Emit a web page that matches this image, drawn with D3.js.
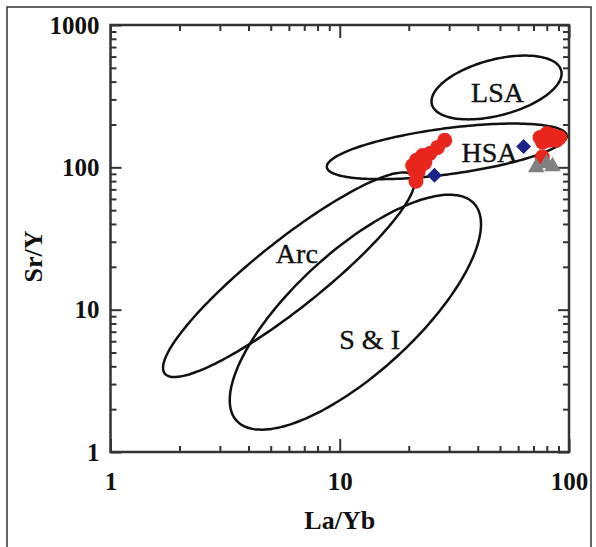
<!DOCTYPE html>
<html>
<head>
<meta charset="utf-8">
<script src="https://cdn.jsdelivr.net/npm/d3@7"></script>
<style>
  body { margin: 0; background: #fff; }
  svg { display: block; }
  text { font-family: 'Liberation Serif', 'Times New Roman', serif; }
</style>
</head>
<body>
<div id="chart"></div>
<script>
// tick values
const xMajor = [1, 10, 100]
const xMinor = [2, 3, 4, 5, 6, 7, 8, 9, 20, 30, 40, 50, 60, 70, 80, 90]
const yMajor = [1, 10, 100, 1000]
const yMinor = [2, 3, 4, 5, 6, 7, 8, 9, 20, 30, 40, 50, 60, 70, 80, 90, 200, 300, 400, 500, 600, 700, 800, 900]

// discrimination fields: centre (La/Yb, Sr/Y) and two conjugate half-axes in log10 units
const fieldNames = ['LSA', 'HSA', 'Arc', 'S & I']
const fieldCentres = [[48.3, 364], [29.3, 129.5], [6.0, 17.6], [11.7, 9.6]]
const fieldU = [[0.282, 0.119], [0.523, 0.112], [0.549, 0.654], [0.548, 0.618]]
const fieldV = [[0.031, -0.190], [0.0133, -0.160], [0, 0.298], [0, 0.547]]
const labelPos = [[48.8, 336], [45, 127], [6.5, 24.9], [13.5, 6.2]]

// samples
const redLaYb = [28.7, 26.7, 24.7, 23.0, 21.6, 20.8, 21.2, 21.9, 22.3, 23.5, 21.5,
  74.8, 80.2, 84.8, 90.9, 76.7, 82.2, 88.2, 76.5]
const redSrY = [155, 138, 125, 121, 112, 103, 95, 92, 100, 108, 80,
  162, 173, 168, 162, 150, 155, 155, 118]
const blueLaYb = [25.9, 63.4]
const blueSrY = [88, 140]
const grayLaYb = [72, 79.8, 84.7]
const graySrY = [100, 106.7, 101.6]

const width = 596, height = 547
const svg = d3.select('#chart').append('svg')
  .attr('width', width)
  .attr('height', height)

// outer border of the figure
svg.append('rect')
  .attr('x', 7).attr('y', 7)
  .attr('width', 584).attr('height', 560)
  .attr('fill', 'none')
  .attr('stroke', '#333')
  .attr('stroke-width', 1.5)

const x = d3.scaleLog().domain([1, 100]).range([110.5, 569])
const y = d3.scaleLog().domain([1, 1000]).range([452, 25])

function styleAxis (g) {
  g.select('.domain').remove()
  g.selectAll('.tick line').attr('stroke', '#333').attr('stroke-width', 2)
  g.selectAll('.tick text')
    .attr('fill', '#111')
    .style('font-size', '25px')
    .style('font-weight', 'bold')
}

const fmt = d3.format('d')

// bottom
svg.append('g')
  .attr('transform', `translate(0,${y(1)})`)
  .call(d3.axisBottom(x).tickValues(xMajor).tickSize(-13).tickPadding(20).tickFormat(fmt))
  .call(styleAxis)
svg.append('g')
  .attr('transform', `translate(0,${y(1)})`)
  .call(d3.axisBottom(x).tickValues(xMinor).tickSize(-6).tickFormat(''))
  .call(styleAxis)
// top
svg.append('g')
  .attr('transform', `translate(0,${y(1000)})`)
  .call(d3.axisTop(x).tickValues(xMajor).tickSize(-13).tickFormat(''))
  .call(styleAxis)
svg.append('g')
  .attr('transform', `translate(0,${y(1000)})`)
  .call(d3.axisTop(x).tickValues(xMinor).tickSize(-6).tickFormat(''))
  .call(styleAxis)
// left
svg.append('g')
  .attr('transform', `translate(${x(1)},0)`)
  .call(d3.axisLeft(y).tickValues(yMajor).tickSize(-11).tickPadding(11).tickFormat(fmt))
  .call(styleAxis)
svg.append('g')
  .attr('transform', `translate(${x(1)},0)`)
  .call(d3.axisLeft(y).tickValues(yMinor).tickSize(-6).tickFormat(''))
  .call(styleAxis)
// right
svg.append('g')
  .attr('transform', `translate(${x(100)},0)`)
  .call(d3.axisRight(y).tickValues(yMajor).tickSize(-11).tickFormat(''))
  .call(styleAxis)
svg.append('g')
  .attr('transform', `translate(${x(100)},0)`)
  .call(d3.axisRight(y).tickValues(yMinor).tickSize(-6).tickFormat(''))
  .call(styleAxis)

// plot frame
svg.append('rect')
  .attr('x', x(1)).attr('y', y(1000))
  .attr('width', x(100) - x(1)).attr('height', y(1) - y(1000))
  .attr('fill', 'none')
  .attr('stroke', '#333')
  .attr('stroke-width', 2.5)

// fields
function ellipsePoints (i) {
  const [cx, cy] = fieldCentres[i]
  const u = fieldU[i], v = fieldV[i]
  return d3.range(0, 360, 2).map(deg => {
    const t = deg * Math.PI / 180
    const lx = Math.log10(cx) + Math.cos(t) * u[0] + Math.sin(t) * v[0]
    const ly = Math.log10(cy) + Math.cos(t) * u[1] + Math.sin(t) * v[1]
    return [x(Math.pow(10, lx)), y(Math.pow(10, ly))]
  })
}
const line = d3.line().curve(d3.curveCardinalClosed)
svg.append('g').selectAll('path')
  .data(fieldNames)
  .join('path')
    .attr('d', (d, i) => line(ellipsePoints(i)))
    .attr('fill', 'none')
    .attr('stroke', '#111')
    .attr('stroke-width', 2.5)

svg.append('g').selectAll('text')
  .data(fieldNames)
  .join('text')
    .attr('x', (d, i) => x(labelPos[i][0]))
    .attr('y', (d, i) => y(labelPos[i][1]))
    .attr('text-anchor', 'middle')
    .attr('dominant-baseline', 'central')
    .attr('fill', '#111')
    .attr('stroke', '#111')
    .attr('stroke-width', 0.4)
    .style('font-size', '28px')
    .text(d => d)

// samples
svg.append('g').selectAll('circle')
  .data(redLaYb)
  .join('circle')
    .attr('cx', d => x(d))
    .attr('cy', (d, i) => y(redSrY[i]))
    .attr('r', 7.5)
    .attr('fill', '#e8261b')

const tri = d3.symbol().type(d3.symbolTriangle).size(120)
svg.append('g').selectAll('path')
  .data(grayLaYb)
  .join('path')
    .attr('d', tri)
    .attr('transform', (d, i) => `translate(${x(d)},${y(graySrY[i])})`)
    .attr('fill', '#808080')

const dia = d3.symbol().type(d3.symbolSquare).size(110)
svg.append('g').selectAll('path')
  .data(blueLaYb)
  .join('path')
    .attr('d', dia)
    .attr('transform', (d, i) => `translate(${x(d)},${y(blueSrY[i])}) rotate(45)`)
    .attr('fill', '#1c2387')

// axis titles
svg.append('text')
  .attr('x', (x(1) + x(100)) / 2)
  .attr('y', 520)
  .attr('text-anchor', 'middle')
  .attr('dominant-baseline', 'central')
  .attr('fill', '#111')
  .style('font-size', '26px')
  .style('font-weight', 'bold')
  .text('La/Yb')

svg.append('text')
  .attr('transform', `translate(33,${(y(1) + y(1000)) / 2 + 18}) rotate(-90)`)
  .attr('text-anchor', 'middle')
  .attr('dominant-baseline', 'central')
  .attr('fill', '#111')
  .style('font-size', '26px')
  .style('font-weight', 'bold')
  .text('Sr/Y')
</script>
</body>
</html>
